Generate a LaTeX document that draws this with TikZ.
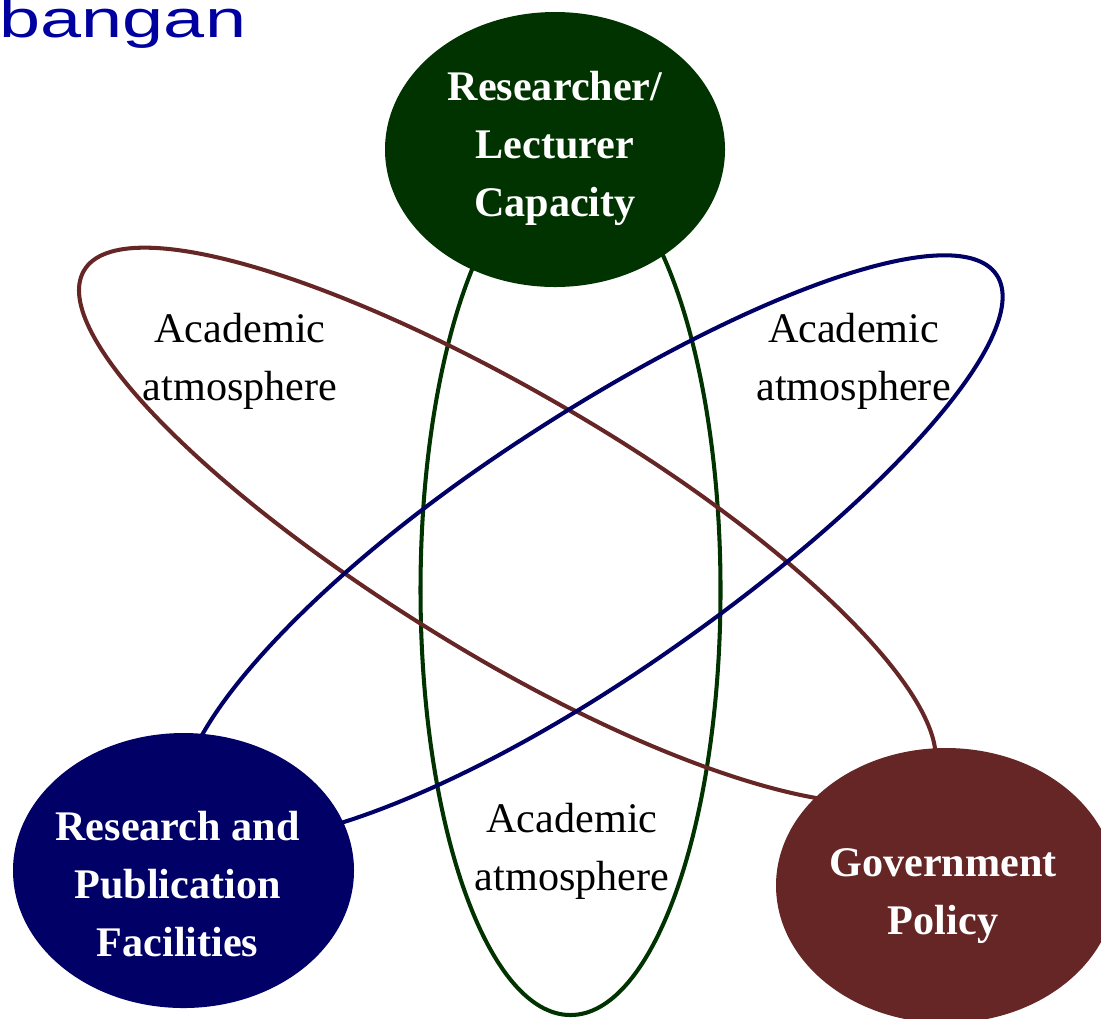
\documentclass[tikz,border=0pt]{standalone}
\usepackage{fontspec}
\setmainfont{Liberation Serif}
\newfontfamily\titlefont{Liberation Sans}
\usepackage{xcolor}
\usepackage{tikz}

\definecolor{capgreen}{RGB}{0,51,0}
\definecolor{facnavy}{RGB}{0,0,102}
\definecolor{polmaroon}{RGB}{102,38,38}
\definecolor{titleblue}{RGB}{0,0,160}

\begin{document}
\begin{tikzpicture}[line width=1.15pt,
    hubtext/.style={text=white, font=\fontsize{12}{16.5}\selectfont\bfseries, align=center, inner sep=0pt},
    atmo/.style={font=\fontsize{12}{16.5}\selectfont, align=center, inner sep=0pt}]
    % --- LAYER 0: BINGKAI ---
    \clip (0,0) rectangle (11.01,-10.18);

    % --- LAYER 1: SISA JUDUL ---
    \node[titleblue, font=\titlefont\fontsize{15}{18}\selectfont, xscale=1.4, anchor=base west, inner sep=0pt] (title) at (-0.03,-0.37) {bangan};

    % --- LAYER 2: ELIPS GARIS ---
    \draw[capgreen] (5.705,-5.90) ellipse (1.50 and 4.25); % vertikal
    % miring ke kanan bawah (ujung kanan lebih pendek)
    \draw[polmaroon, shift={(5.23,-5.34)}, rotate=-31]
        (0,1.30) arc[start angle=90, end angle=270, x radius=5.12, y radius=1.30]
                 arc[start angle=270, end angle=450, x radius=4.75, y radius=1.30] -- cycle;
    % miring ke kanan atas (ujung kiri lebih pendek)
    \draw[facnavy, shift={(5.72,-5.61)}, rotate=34]
        (0,1.29) arc[start angle=90, end angle=270, x radius=4.62, y radius=1.29]
                 arc[start angle=270, end angle=450, x radius=5.12, y radius=1.29] -- cycle;

    % --- LAYER 3: TEKS SUASANA ---
    \node[atmo] (atmoleft)   at (2.40,-3.615) {Academic\\atmosphere};
    \node[atmo] (atmoright)  at (8.535,-3.615) {Academic\\atmosphere};
    \node[atmo] (atmobottom) at (5.72,-8.51) {Academic\\atmosphere};

    % --- LAYER 4: ELIPS PENUH ---
    \fill[capgreen]  (5.55,-1.495) ellipse (1.70 and 1.375);
    \fill[facnavy]   (1.835,-8.705) ellipse (1.705 and 1.375);
    \fill[polmaroon] (9.46,-8.855) ellipse (1.70 and 1.375);

    % --- LAYER 5: TEKS ELIPS ---
    \node[hubtext] (capacity)   at (5.55,-1.484) {Researcher/\\Lecturer\\Capacity};
    \node[hubtext] (facilities) at (1.775,-8.845) {Research and\\Publication\\Facilities};
    \node[hubtext] (policy)     at (9.43,-8.96) {Government\\Policy};
\end{tikzpicture}
\end{document}
